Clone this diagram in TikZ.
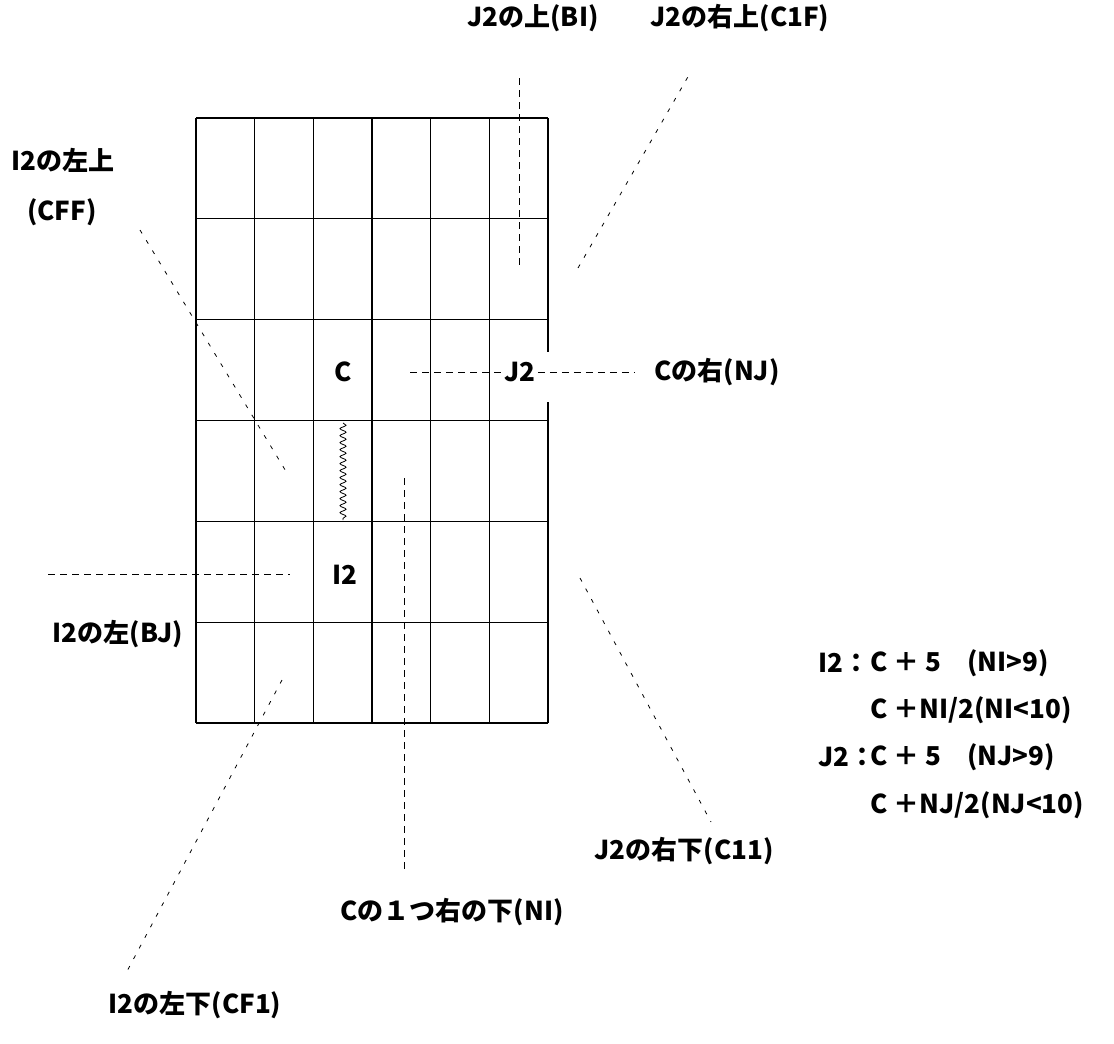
\documentclass[tikz,border=0pt]{standalone}
\usepackage{fontspec}
\setmainfont{Noto Sans CJK JP}
\usepackage{tikz}
\usetikzlibrary{positioning,decorations.pathmorphing}

\tikzset{
  lbl/.style={font=\bfseries\fontsize{13}{15}\selectfont, inner sep=1pt},
  leader/.style={dash pattern=on 3.5pt off 2.5pt, line width=0.5pt},
  slant/.style={dash pattern=on 2pt off 4pt, line width=0.4pt},
}

\begin{document}
\begin{tikzpicture}[x=0.5pt,y=-0.5pt]
        \useasboundingbox (0,0) rectangle (1114,1044);
        % Griglia 6x6
        \foreach \y in {118,218.8,319.7,420.5,521.3,622.2,723}
            \draw[line width=0.6pt] (196,\y) -- (548,\y);
        \foreach \x in {196,254.7,313.3,372,430.7,489.3}
            \draw[line width=0.6pt] (\x,118) -- (\x,723);
        \draw[line width=0.6pt] (548,118) -- (548,352);
        \draw[line width=0.6pt] (548,402) -- (548,723);
        % Celle C, J2, I2
        \node[lbl] (c) at (343,372) {C};
        \node[lbl] (j2) at (520,372) {J2};
        \node[lbl] (i2) at (345,575) {I2};
        % Linea ondulata
        \draw[line width=0.4pt, decorate, decoration={snake,amplitude=1.5pt,segment length=3.5pt}] (343,423) -- (343,520);
        % Estremi delle linee
        \coordinate (bi1) at (519,78);   \coordinate (bi2) at (519,268);
        \coordinate (c1f1) at (578,268); \coordinate (c1f2) at (689,75);
        \coordinate (cff1) at (140,230); \coordinate (cff2) at (287,473);
        \coordinate (nj1) at (410,372);  \coordinate (nj2) at (634,372);
        \coordinate (ni1) at (404,478);  \coordinate (ni2) at (404,873);
        \coordinate (bj1) at (48,574);   \coordinate (bj2) at (290,574);
        \coordinate (cf11) at (282,680); \coordinate (cf12) at (125,975);
        \coordinate (c111) at (580,578); \coordinate (c112) at (711,822);
        % Linee tratteggiate
        \draw[leader] (bi1) -- (bi2);
        \draw[slant] (c1f1) -- (c1f2);
        \draw[slant] (cff1) -- (cff2);
        \draw[leader] (nj1) -- (j2);
        \draw[leader] (j2) -- (nj2);
        \draw[leader] (ni1) -- (ni2);
        \draw[leader] (bj1) -- (bj2);
        \draw[slant] (cf11) -- (cf12);
        \draw[slant] (c111) -- (c112);
        % Etichette
        \node[lbl] (bi) at (533,18) {J2の上(BI)};
        \node[lbl] (c1f) at (740,18) {J2の右上(C1F)};
        \node[lbl] (cff) at (63,160) {I2の左上};
        \node[lbl] (cffb) at (62,212) {(CFF)};
        \node[lbl] (nj) at (717,372) {Cの右(NJ)};
        \node[lbl] (bj) at (118,634) {I2の左(BJ)};
        \node[lbl] (ni) at (452,912) {Cの１つ右の下(NI)};
        \node[lbl] (c11) at (684,851) {J2の右下(C11)};
        \node[lbl] (cf1) at (195,1005) {I2の左下(CF1)};
        % Formule a destra
        \node[lbl, anchor=west] (fi) at (816,663) {I2：};
        \node[lbl, anchor=west] (fi1) at (868,663) {C ＋ 5　(NI>9)};
        \node[lbl, anchor=west] (fi2) at (868,710) {C ＋NI/2(NI<10)};
        \node[lbl, anchor=west] (fj) at (816,757) {J2：};
        \node[lbl, anchor=west] (fj1) at (868,757) {C ＋ 5　(NJ>9)};
        \node[lbl, anchor=west] (fj2) at (868,805) {C ＋NJ/2(NJ<10)};
    \end{tikzpicture}
\end{document}
